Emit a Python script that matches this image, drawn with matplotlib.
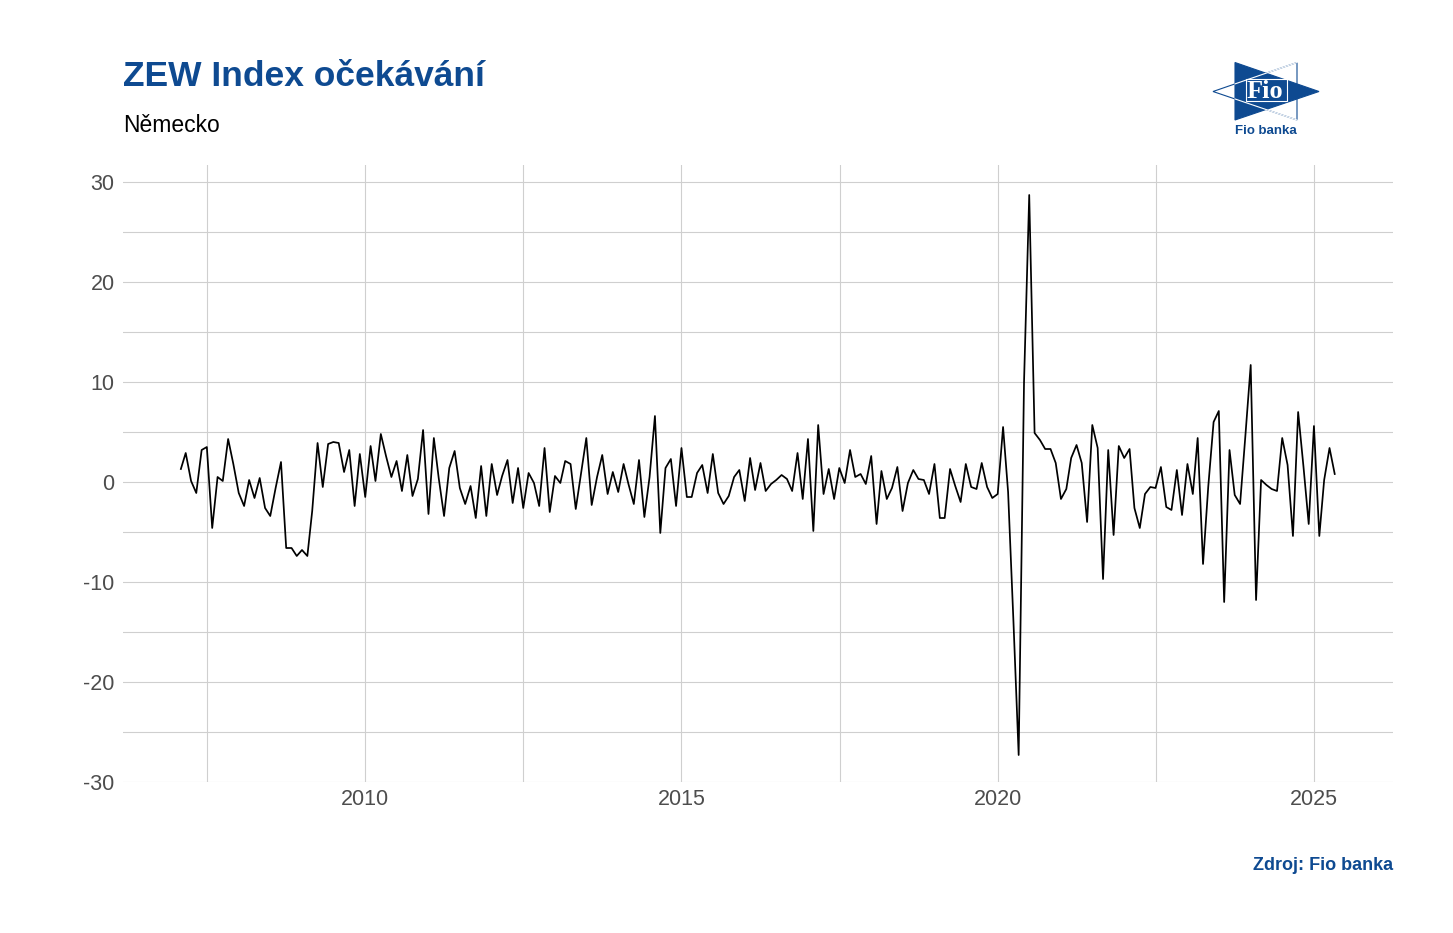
import matplotlib
matplotlib.use("Agg")
import matplotlib.pyplot as plt
from matplotlib.patches import Polygon
import numpy as np
import pandas as pd

plt.rcParams['font.family'] = ['Liberation Sans', 'DejaVu Sans']

# ---- data ----
start_month = "2007-02-01"
values = [
    1.3, 2.9, 0.1, -1.1, 3.2, 3.5, -4.6, 0.5, 0.1, 4.3,
    1.8, -1.1, -2.4, 0.2, -1.6, 0.4, -2.6, -3.4, -0.6, 2.0,
    -6.6, -6.6, -7.4, -6.8, -7.4, -2.9, 3.9, -0.5, 3.8, 4.0,
    3.9, 1.0, 3.2, -2.4, 2.8, -1.5, 3.6, 0.1, 4.8, 2.6,
    0.5, 2.1, -0.9, 2.7, -1.4, 0.3, 5.2, -3.2, 4.4, 0.4,
    -3.4, 1.4, 3.1, -0.6, -2.2, -0.4, -3.6, 1.6, -3.4, 1.8,
    -1.3, 0.6, 2.2, -2.1, 1.4, -2.6, 0.9, -0.1, -2.4, 3.4,
    -3.0, 0.6, -0.1, 2.1, 1.8, -2.7, 0.9, 4.4, -2.3, 0.5,
    2.7, -1.2, 1.0, -1.0, 1.8, -0.2, -2.2, 2.2, -3.5, 0.5,
    6.6, -5.1, 1.4, 2.3, -2.4, 3.4, -1.5, -1.5, 0.9, 1.7,
    -1.1, 2.8, -1.1, -2.2, -1.4, 0.5, 1.2, -1.9, 2.4, -0.8,
    1.9, -0.9, -0.2, 0.2, 0.7, 0.3, -0.9, 2.9, -1.7, 4.3,
    -4.9, 5.7, -1.2, 1.3, -1.7, 1.4, -0.1, 3.2, 0.5, 0.8,
    -0.2, 2.6, -4.2, 1.1, -1.7, -0.6, 1.5, -2.9, -0.1, 1.2,
    0.3, 0.2, -1.2, 1.8, -3.6, -3.6, 1.3, -0.4, -2.0, 1.8,
    -0.5, -0.7, 1.9, -0.5, -1.6, -1.2, 5.5, -1.0, -14.0, -27.3,
    10.0, 28.7, 4.9, 4.2, 3.3, 3.3, 1.9, -1.7, -0.7, 2.4,
    3.7, 1.9, -4.0, 5.7, 3.4, -9.7, 3.2, -5.3, 3.6, 2.4,
    3.3, -2.6, -4.6, -1.2, -0.5, -0.6, 1.5, -2.5, -2.8, 1.2,
    -3.3, 1.8, -1.2, 4.4, -8.2, -0.5, 6.0, 7.1, -12.0, 3.2,
    -1.3, -2.2, 4.5, 11.7, -11.8, 0.2, -0.3, -0.7, -0.9, 4.4,
    1.7, -5.4, 7.0, 1.5, -4.2, 5.6, -5.4, 0.2, 3.4, 0.8,
]
x_ticks = [2010, 2015, 2020, 2025]
x_minor = [2007.5, 2012.5, 2017.5, 2022.5]
y_ticks = [-30, -20, -10, 0, 10, 20, 30]
y_minor = [-25, -15, -5, 5, 15, 25]

title = "ZEW Index očekávání"
subtitle = "Německo"
caption = "Zdroj: Fio banka"

BLUE = "#0E4A91"
GRID = "#cfcfcf"

dates = pd.date_range(start_month, periods=len(values), freq="MS")
xdec = dates.year + (dates.dayofyear - 1) / 365.25

W, H = 1453, 933
fig = plt.figure(figsize=(W / 100, H / 100), dpi=100)
ax = fig.add_axes([123 / W, 1 - 782 / H, (1393 - 123) / W, (782 - 165) / H])

ax.plot(xdec, values, color="black", linewidth=1.25)
ax.set_xlim(2006.17, 2026.25)
ax.set_ylim(-30.0, 31.7)
ax.set_xticks(x_ticks)
ax.set_xticks(x_minor, minor=True)
ax.set_yticks(y_ticks)
ax.set_yticks(y_minor, minor=True)
ax.set_xticklabels([str(t) for t in x_ticks])
ax.set_yticklabels([str(t) for t in y_ticks])
ax.grid(True, which="both", color=GRID, linewidth=0.8)
ax.set_axisbelow(True)
for s in ax.spines.values():
    s.set_visible(False)
ax.tick_params(which="both", length=0, colors="#4d4d4d", labelsize=15.5)
ax.tick_params(axis="y", pad=6)
ax.tick_params(axis="x", pad=5)

# texts
fig.text(123 / W, 1 - 77 / H, title, color=BLUE, fontsize=25.5, fontweight="bold",
         ha="left", va="center")
fig.text(123 / W, 1 - 126 / H, subtitle, color="black", fontsize=16.5,
         ha="left", va="center")
fig.text(1393 / W, 1 - 866 / H, caption, color=BLUE, fontsize=13, fontweight="bold",
         ha="right", va="center")

# logo
lax = fig.add_axes([0, 0, 1, 1], facecolor="none")
lax.set_xlim(0, W)
lax.set_ylim(H, 0)
lax.axis("off")
right_tri = [(1235, 62.5), (1235, 120), (1319, 91.5)]
left_tri = [(1297, 62.5), (1297, 120), (1213, 91.5)]
lax.add_patch(Polygon(right_tri, closed=True, facecolor=BLUE, edgecolor=BLUE, lw=0.8))
lax.add_patch(Polygon(left_tri, closed=True, facecolor="none", edgecolor=BLUE, lw=0.8))
# white lines of the left triangle over the blue area
lax.plot([1235, 1297], [(91.5 + (62.5 - 91.5) * (1235 - 1213) / (1297 - 1213)), 62.5],
         color="white", lw=0.8)
lax.plot([1235, 1297], [(91.5 + (120 - 91.5) * (1235 - 1213) / (1297 - 1213)), 120],
         color="white", lw=0.8)
lax.add_patch(Polygon([(1246, 79), (1287, 79), (1287, 101), (1246, 101)], closed=True,
                      facecolor="none", edgecolor="white", lw=0.8))
lax.text(1265, 91, "Fio", color="white", fontsize=19, fontweight="bold",
         family=["Liberation Serif", "DejaVu Serif"], ha="center", va="center")
lax.text(1266, 131, "Fio banka", color=BLUE, fontsize=9.5, fontweight="bold",
         ha="center", va="center")

fig.savefig("out.png", dpi=100)
